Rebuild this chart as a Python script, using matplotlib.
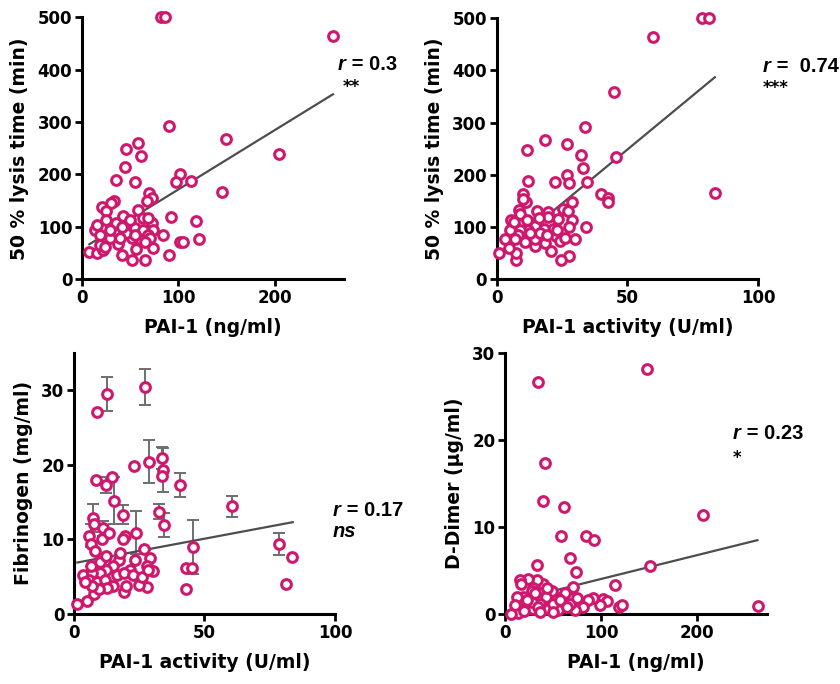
import numpy as np
import matplotlib
matplotlib.use('Agg')
import matplotlib.pyplot as plt

plt.rcParams['font.family'] = 'DejaVu Sans'
plt.rcParams['font.weight'] = 'bold'

PINK = '#D0176E'
LINE = '#4D4D4D'

# --- panel A: PAI-1 (ng/ml) vs 50 % lysis time
a_x = [81.8, 86.3, 260.8, 90.7, 149.5, 204.5, 145.7, 57.7, 45.4, 61.2, 44.7, 101.4, 97.3, 112.7,
       35.1, 55.0, 69.4, 73.2, 67.0, 33.3, 30.2, 20.6, 25.4, 57.7, 92.1, 118.6, 121.0, 83.8, 101.4,
       104.8, 90.7, 73.5, 65.0, 52.2, 41.2, 55.7, 6.9, 15.5, 22.3, 13.1, 25.4, 37.1, 35.7, 42.3,
       44.7, 54.6, 63.2, 72.9, 74.2, 63.2, 68.4, 71.1, 61.2, 51.5, 46.0, 34.0, 28.9, 18.6, 15.1,
       24.7, 28.9, 39.2, 54.6, 65.0, 18.6, 23.7, 41.2, 50.2, 68.4]
a_y = [500, 500, 465, 293, 268, 240, 166, 260, 249, 235, 215, 201, 186, 188,
       190, 186, 165, 156, 149, 149, 145, 137, 130, 132, 118, 112, 76, 85, 71,
       72, 46, 60, 37, 37, 46, 57, 52, 51, 55, 94, 76, 67, 107, 121,
       97, 97, 116, 107, 94, 94, 85, 78, 75, 78, 88, 88, 78, 85, 104,
       113, 94, 78, 85, 72, 66, 62, 100, 113, 116]
a_fit_x = [7.6, 260.5]
a_fit_y = [66.8, 353]

# --- panel B: PAI-1 activity vs 50 % lysis time
b_x = [78.3, 81.3, 59.9, 45.0, 83.3, 45.5, 33.9, 18.5, 11.7, 26.8, 32.2, 33.1, 26.8, 27.6, 22.4,
       11.8, 34.6, 40.0, 42.7, 42.4, 10.2, 11.2, 28.7, 34.1, 29.8, 27.5, 24.7, 7.4, 7.4, 1.0, 3.2,
       5.4, 8.7, 15.5, 19.7, 19.6, 23.4, 25.2, 28.8, 27.5, 21.7, 18.1, 14.5, 12.1, 8.9, 8.1, 5.1,
       4.8, 10.8, 14.6, 14.6, 18.5, 20.6, 22.6, 24.2, 8.9, 9.9, 12.7, 16.6, 19.1, 22.9, 7.0, 6.8,
       16.1, 26.1, 27.4, 11.5]
b_y = [500, 500, 465, 358, 165, 234, 292, 267, 248, 259, 238, 214, 200, 185, 186,
       188, 187, 163, 156, 148, 163, 148, 148, 101, 77, 45, 36, 36, 50, 50, 77,
       114, 132, 130, 128, 119, 116, 134, 114, 100, 97, 97, 103, 95, 95, 85, 95,
       59, 72, 64, 77, 70, 55, 82, 74, 126, 153, 88, 88, 85, 95, 77, 110,
       117, 79, 130, 114]
b_fit_x = [1.0, 83.4]
b_fit_y = [45.8, 387]

# --- panel C: PAI-1 activity vs fibrinogen
c_x = [27.2, 12.5, 8.9, 28.9, 33.7, 34.0, 33.9, 23.0, 40.6, 8.4, 12.3, 14.4, 15.3, 60.5, 32.7,
       34.5, 45.7, 78.7, 83.5, 81.1, 42.9, 45.3, 42.9, 18.6, 7.4, 7.8, 5.9, 6.5, 10.6, 11.2,
       13.5, 23.8, 19.7, 18.6, 26.8, 8.1, 3.3, 1.3, 5.1, 7.7, 19.2, 20.0, 27.8, 25.0, 29.1,
       30.4, 27.8, 23.4, 21.4, 17.1, 17.6, 15.1, 12.3, 10.0, 6.9, 6.4, 5.6, 8.7, 11.9, 15.1,
       12.5, 9.7, 7.0, 16.3, 19.2, 22.7, 25.9, 28.4, 10.0, 12.3, 4.2]
c_y = [30.4, 29.5, 27.0, 20.4, 20.9, 19.3, 18.5, 19.8, 17.3, 17.9, 17.3, 18.3, 15.2, 14.4, 13.7,
       11.9, 9.0, 9.4, 7.6, 4.0, 6.2, 6.2, 3.4, 13.3, 12.9, 12.0, 10.5, 9.4, 10.0, 11.5,
       10.9, 10.9, 10.4, 10.0, 8.7, 8.4, 5.2, 1.4, 1.8, 2.7, 3.0, 3.8, 3.6, 3.9, 7.5,
       5.7, 6.4, 7.3, 5.9, 7.3, 8.2, 6.4, 5.9, 5.5, 5.5, 6.4, 4.6, 4.3, 4.6, 3.7,
       3.5, 3.3, 3.7, 5.2, 5.5, 5.2, 4.9, 5.9, 7.0, 7.8, 4.3]
# points that carry visible SD bars
c_err_x = [27.2, 12.5, 28.9, 33.7, 34.0, 40.6, 12.3, 15.3, 60.5, 32.7, 34.5, 45.7, 78.7, 7.4,
           23.8, 18.6, 11.2, 6.4]
c_err_y = [30.4, 29.5, 20.4, 20.9, 19.3, 17.3, 17.3, 15.2, 14.4, 13.7, 11.9, 9.0, 9.4, 12.9,
           10.9, 13.3, 11.5, 10.5]
c_err = [2.35, 2.25, 2.85, 1.5, 3.0, 1.6, 1.1, 3.2, 1.4, 1.0, 1.6, 3.6, 1.5, 1.9,
         2.9, 1.3, 1.0, 1.5]
c_fit_x = [1.3, 83.8]
c_fit_y = [6.9, 12.3]

# --- panel D: PAI-1 (ng/ml) vs D-Dimer
d_x = [147.3, 34.7, 41.6, 39.9, 61.7, 205.9, 58.2, 84.6, 92.9, 67.9, 32.9, 74.2, 150.4, 114.7,
       262.7, 118.9, 122.0, 101.9, 105.7, 98.8, 91.2, 86.7, 81.5, 72.8, 69.3, 71.1, 62.4, 60.7,
       55.5, 53.7, 48.5, 45.1, 42.6, 39.9, 32.9, 24.3, 15.6, 16.3, 29.5, 27.7, 19.1, 12.1, 21.8,
       29.5, 36.4, 13.9, 5.9, 19.8, 27.7, 34.7, 49.6, 57.2, 67.6, 74.5, 64.1, 50.3, 36.4, 10.4,
       23.2, 31.2, 43.3]
d_y = [28.2, 26.7, 17.4, 13.0, 12.35, 11.4, 9.0, 9.0, 8.5, 6.4, 5.6, 4.8, 5.5, 3.3,
       0.96, 0.84, 1.0, 1.76, 1.5, 1.0, 1.9, 1.6, 0.84, 0.46, 1.9, 3.1, 2.4, 1.0,
       0.46, 1.8, 2.6, 0.54, 2.0, 3.5, 3.9, 4.0, 3.9, 3.45, 2.95, 2.7, 2.0, 2.0, 0.84,
       0.54, 1.2, 0.15, 0.0, 0.38, 1.4, 0.84, 1.2, 1.6, 1.2, 1.8, 0.84, 0.27, 0.27, 1.0,
       1.6, 2.4, 2.95]
d_fit_x = [8.7, 262.4]
d_fit_y = [1.53, 8.5]

fig = plt.figure(figsize=(8.4, 6.84), dpi=100)

ax_a = fig.add_axes([0.0976, 0.5917, 0.3119, 0.3830])
ax_b = fig.add_axes([0.5913, 0.5917, 0.3114, 0.3816])
ax_c = fig.add_axes([0.0881, 0.1023, 0.3107, 0.3821])
ax_d = fig.add_axes([0.6012, 0.1023, 0.3115, 0.3811])


def style(ax, xlim, ylim, xticks, yticks, xlabel, ylabel):
    ax.set_xlim(*xlim)
    ax.set_ylim(*ylim)
    ax.set_xticks(xticks)
    ax.set_yticks(yticks)
    for s in ['top', 'right']:
        ax.spines[s].set_visible(False)
    for s in ['left', 'bottom']:
        ax.spines[s].set_linewidth(2.2)
    ax.tick_params(width=2.0, length=5, labelsize=12, pad=2)
    for lab in ax.get_xticklabels() + ax.get_yticklabels():
        lab.set_fontweight('bold')
    ax.set_xlabel(xlabel, fontsize=13.5, fontweight='bold', labelpad=8)
    ax.set_ylabel(ylabel, fontsize=13.5, fontweight='bold', labelpad=6)


def scatter(ax, x, y, fx, fy):
    ax.plot(fx, fy, color=LINE, lw=1.6, zorder=2)
    ax.plot(x, y, 'o', ms=7, mfc='white', mec=PINK, mew=2.2, clip_on=False, zorder=3)


STAT_FONT = 'Liberation Sans'


def stat_text(ax, xf, yf, r_text, sig, sig_dx, sig_dy, sig_italic=False):
    t = ax.text(xf, yf, 'r', transform=ax.transAxes, fontsize=14.5, fontweight='bold',
                fontstyle='italic', family=STAT_FONT, va='center', ha='left')
    ax.annotate(r_text, xy=(1, 0), xycoords=t, fontsize=14.5, fontweight='bold',
                family=STAT_FONT, va='bottom', ha='left')
    if sig_italic:
        ax.text(xf + sig_dx, yf - sig_dy, sig, transform=ax.transAxes, fontsize=14.5,
                fontweight='bold', fontstyle='italic', family=STAT_FONT,
                va='baseline', ha='left')
    else:
        ax.text(xf + sig_dx, yf - sig_dy, sig, transform=ax.transAxes, fontsize=12,
                fontweight='bold', va='baseline', ha='left')


scatter(ax_a, a_x, a_y, a_fit_x, a_fit_y)
style(ax_a, (0, 272), (0, 500), [0, 100, 200], [0, 100, 200, 300, 400, 500],
      'PAI-1 (ng/ml)', '50 % lysis time (min)')
stat_text(ax_a, 0.977, 0.82, ' = 0.3', '**', 0.018, 0.105)

scatter(ax_b, b_x, b_y, b_fit_x, b_fit_y)
style(ax_b, (0, 100), (0, 500), [0, 50, 100], [0, 100, 200, 300, 400, 500],
      'PAI-1 activity (U/ml)', '50 % lysis time (min)')
stat_text(ax_b, 1.018, 0.817, ' =  0.74', '***', 0.0, 0.105)

ax_c.errorbar(c_err_x, c_err_y, yerr=c_err, fmt='none', ecolor='#6E6E6E', elinewidth=1.4,
              capsize=4, capthick=1.4, zorder=1)
scatter(ax_c, c_x, c_y, c_fit_x, c_fit_y)
style(ax_c, (0, 100), (0, 35), [0, 50, 100], [0, 10, 20, 30],
      'PAI-1 activity (U/ml)', 'Fibrinogen (mg/ml)')
stat_text(ax_c, 0.992, 0.398, ' = 0.17', 'ns', 0.0, 0.105, sig_italic=True)

scatter(ax_d, d_x, d_y, d_fit_x, d_fit_y)
style(ax_d, (0, 272), (0, 30), [0, 100, 200], [0, 10, 20, 30],
      'PAI-1 (ng/ml)', 'D-Dimer (\u00b5g/ml)')
stat_text(ax_d, 0.871, 0.694, ' = 0.23', '*', 0.0, 0.115)

fig.savefig('out.png', dpi=100)
